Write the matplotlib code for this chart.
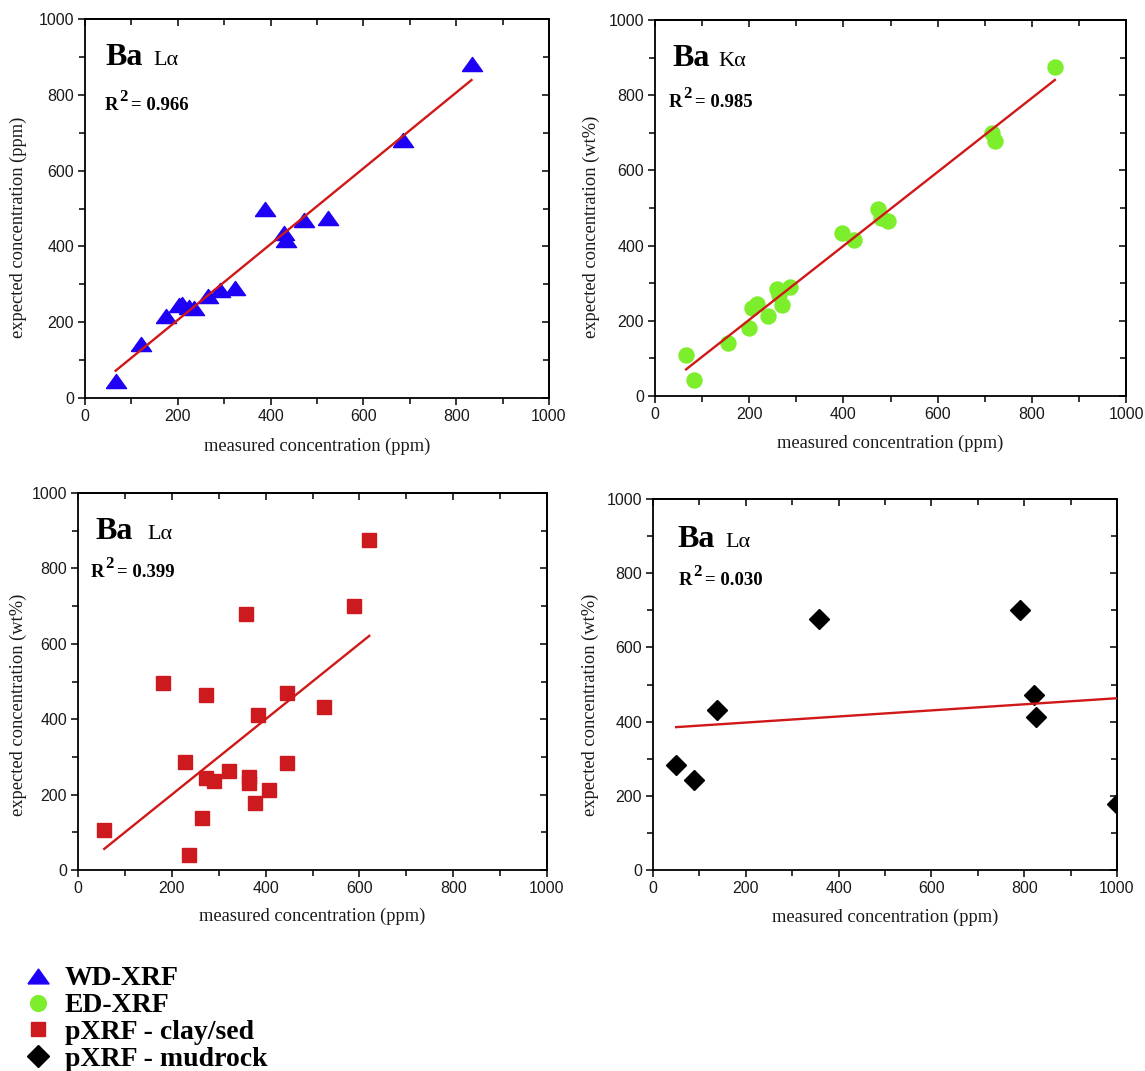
import matplotlib
matplotlib.use("Agg")
import matplotlib.pyplot as plt
from matplotlib.lines import Line2D
from matplotlib.ticker import MultipleLocator
import numpy as np

# ---------------- data ----------------
wd_x = [66, 120, 174, 203, 210, 224, 235, 266, 290, 324, 389, 428, 433, 471, 523, 686, 833]
wd_y = [45, 143, 217, 246, 249, 240, 237, 268, 286, 290, 500, 436, 417, 470, 474, 682, 880]
wd_fit = [1.0, 6.0]          # slope, intercept
wd_r2 = "0.966"

ed_x = [66, 82, 155, 200, 206, 217, 239, 259, 264, 270, 286, 397, 423, 473, 479, 495, 716, 722, 849]
ed_y = [108, 42, 140, 181, 235, 246, 212, 285, 268, 243, 290, 434, 414, 498, 473, 465, 699, 677, 876]
ed_fit = [0.983, 6.0]
ed_r2 = "0.985"

cl_x = [56, 182, 228, 236, 264, 272, 272, 291, 322, 358, 364, 364, 377, 383, 408, 445, 445, 525, 588, 621]
cl_y = [107, 497, 287, 41, 138, 463, 244, 235, 262, 678, 246, 232, 179, 412, 211, 470, 283, 432, 700, 876]
cl_fit = [1.0, 0.0]
cl_r2 = "0.399"

mu_x = [50, 88, 138, 357, 792, 821, 826, 1000]
mu_y = [284, 242, 432, 677, 700, 471, 412, 179]
mu_fit = [0.082, 381.0]
mu_r2 = "0.030"

series_labels = ["WD-XRF", "ED-XRF", "pXRF - clay/sed", "pXRF - mudrock"]
line_names = ["L\u03b1", "K\u03b1", "L\u03b1", "L\u03b1"]
ylabels = ["expected concentration (ppm)", "expected concentration (wt%)",
           "expected concentration (wt%)", "expected concentration (wt%)"]
xlabel = "measured concentration (ppm)"

# ---------------- style ----------------
tri = [(-1, -0.7), (1, -0.7), (0, 0.7), (-1, -0.7)]
styles = [
    dict(marker=tri, color='#1e00f5', ms=14.5),
    dict(marker='o', color='#7cee2c', ms=10.8),
    dict(marker='s', color='#cc1a1f', ms=10),
    dict(marker='D', color='#000000', ms=10.2),
]
line_color = '#d01818'

W, H = 1145, 1071
fig = plt.figure(figsize=(W / 100, H / 100), dpi=100)

# axes boxes in pixels: left, right, top, bottom
boxes = [(85, 549, 19, 398), (655, 1126, 20, 396), (78, 547, 493, 870), (653, 1117, 499, 870)]
ylab_pos = [(-0.125, 0.451), (-0.117, 0.449), (-0.109, 0.438), (-0.116, 0.445)]
xlab_pos = [-0.105, -0.104, -0.101, -0.103]
ba_pos = [(0.043, 0.879), (0.036, 0.878), (0.038, 0.878), (0.052, 0.871)]
ln_x = [0.147, 0.134, 0.147, 0.157]
r2_pos = [(0.043, 0.76), (0.03, 0.769), (0.028, 0.777), (0.056, 0.768)]

data = [(wd_x, wd_y, wd_fit, wd_r2), (ed_x, ed_y, ed_fit, ed_r2),
        (cl_x, cl_y, cl_fit, cl_r2), (mu_x, mu_y, mu_fit, mu_r2)]

serif = 'Liberation Serif'
sans = 'Liberation Sans'

for i, ((l, r, t, b), (xs, ys, fit, r2)) in enumerate(zip(boxes, data)):
    ax = fig.add_axes([l / W, (H - b) / H, (r - l) / W, (b - t) / H])
    xs = np.array(xs, float)
    ys = np.array(ys, float)
    st = styles[i]
    ax.plot(xs, ys, linestyle='none', marker=st['marker'], color=st['color'],
            ms=st['ms'], mec=st['color'], zorder=3)
    lx = np.array([xs.min(), xs.max()])
    ax.plot(lx, fit[0] * lx + fit[1], color=line_color, lw=1.7, zorder=4)
    ax.set_xlim(0, 1000)
    ax.set_ylim(0, 1000)
    ax.xaxis.set_major_locator(MultipleLocator(200))
    ax.yaxis.set_major_locator(MultipleLocator(200))
    ax.xaxis.set_minor_locator(MultipleLocator(100))
    ax.yaxis.set_minor_locator(MultipleLocator(100))
    for sp in ax.spines.values():
        sp.set_linewidth(1.3)
    ax.tick_params(which='both', direction='out', width=1.1, top=False, right=False)
    ax.tick_params(which='major', length=5)
    ax.tick_params(which='minor', length=4)
    ax.tick_params(labelsize=11.5, pad=3)
    for lab in ax.get_xticklabels() + ax.get_yticklabels():
        lab.set_family(sans)
        lab.set_color('#1a1a1a')
    # inward ticks on top and right
    ax2 = ax.secondary_xaxis('top')
    ax2.xaxis.set_major_locator(MultipleLocator(200))
    ax2.xaxis.set_minor_locator(MultipleLocator(100))
    ax2.tick_params(which='both', direction='in', width=1.1, labeltop=False)
    ax2.tick_params(which='major', length=5)
    ax2.tick_params(which='minor', length=4)
    ax2.spines['top'].set_linewidth(1.3)
    ay2 = ax.secondary_yaxis('right')
    ay2.yaxis.set_major_locator(MultipleLocator(200))
    ay2.yaxis.set_minor_locator(MultipleLocator(100))
    ay2.tick_params(which='both', direction='in', width=1.1, labelright=False)
    ay2.tick_params(which='major', length=5)
    ay2.tick_params(which='minor', length=4)
    ay2.spines['right'].set_linewidth(1.3)

    ax.set_xlabel(xlabel, family=serif, fontsize=13.3, color='#1a1a1a')
    ax.set_ylabel(ylabels[i], family=serif, fontsize=13.3, color='#1a1a1a')
    ax.xaxis.set_label_coords(0.5, xlab_pos[i])
    ax.yaxis.set_label_coords(*ylab_pos[i])

    bx, by = ba_pos[i]
    ax.text(bx, by, "Ba", transform=ax.transAxes, family=serif, fontweight='bold',
            fontsize=23, va='baseline', ha='left')
    ax.text(ln_x[i], by, line_names[i], transform=ax.transAxes, family=serif,
            fontsize=16, va='baseline', ha='left')
    rx, ry = r2_pos[i]
    t_r = ax.text(rx, ry, "R", transform=ax.transAxes, family=serif,
                  fontweight='bold', fontsize=13.5, va='baseline', ha='left')
    ax.annotate("2", xy=(1, 0), xycoords=t_r, xytext=(0.8, 9.5),
                textcoords='offset points', family=serif, fontweight='bold',
                fontsize=12, va='baseline', ha='left')
    ax.annotate("= " + r2, xy=(1, 0), xycoords=t_r, xytext=(8.8, 2.9),
                textcoords='offset points', family=serif, fontweight='bold',
                fontsize=13.5, va='baseline', ha='left')

handles = [Line2D([], [], linestyle='none', marker=s['marker'], color=s['color'],
                  mec=s['color'], ms=s['ms'] * 1.05) for s in styles]
fig.legend(handles, series_labels, loc='upper left', bbox_to_anchor=(24 / W, (H - 966) / H),
           frameon=False, borderpad=0, borderaxespad=0, handlelength=1.0,
           handletextpad=0.47, labelspacing=0.05,
           prop=dict(family=serif, weight='bold', size=20))

fig.savefig("out.png", dpi=100)
